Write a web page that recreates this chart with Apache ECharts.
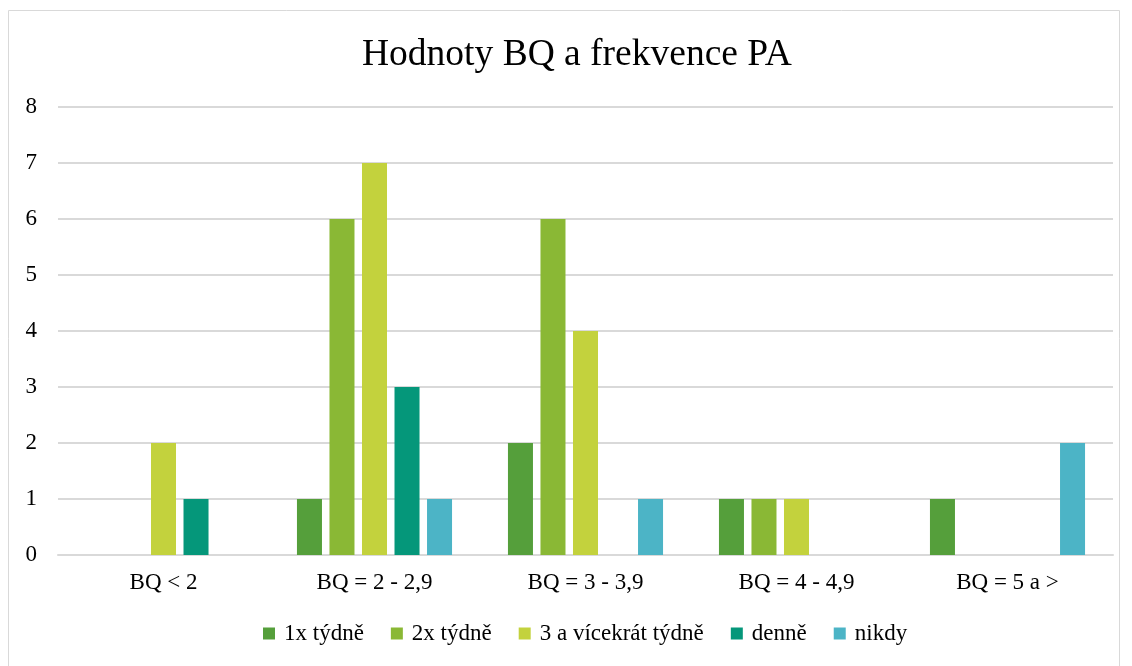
<!DOCTYPE html>
<html>
<head>
<meta charset="utf-8">
<script src="https://cdn.jsdelivr.net/npm/echarts@6/dist/echarts.min.js"></script>
<style>
  html, body { margin: 0; padding: 0; background: #fff; }
  #chart { width: 1132px; height: 666px; }
</style>
</head>
<body>
<div id="chart"></div>
<script>
const categories = ["BQ < 2", "BQ = 2 - 2,9", "BQ = 3 - 3,9", "BQ = 4 - 4,9", "BQ = 5 a >"]
const seriesNames = ["1x týdně", "2x týdně", "3 a vícekrát týdně", "denně", "nikdy"]
const weekly1 = ["-", 1, 2, 1, 1]
const weekly2 = ["-", 6, 6, 1, "-"]
const weekly3 = [2, 7, 4, 1, "-"]
const daily = [1, 3, "-", "-", "-"]
const never = ["-", 1, 1, "-", 2]
const yTicks = [0, 8, 1]

const colors = ["#559f3b", "#8ab835", "#c3d23d", "#05977a", "#4cb4c6"]
const values = [weekly1, weekly2, weekly3, daily, never]

const chart = echarts.init(document.getElementById("chart"))
const font = "Liberation Serif, Times New Roman, serif"

const option = {
  animation: false,
  textStyle: { fontFamily: font },
  title: {
    text: "Hodnoty BQ a frekvence PA",
    left: 357,
    top: 31,
    textStyle: { fontFamily: font, fontSize: 37.5, fontWeight: "normal", color: "#000" }
  },
  graphic: [
    {
      type: "rect",
      shape: { x: 8.5, y: 10.5, width: 1111, height: 660 },
      style: { fill: "none", stroke: "#d9d9d9", lineWidth: 1 },
      silent: true
    }
  ],
  legend: {
    bottom: 16,
    left: 258,
    itemWidth: 12,
    itemHeight: 12,
    itemGap: 27,
    icon: "rect",
    textStyle: { fontFamily: font, fontSize: 23, color: "#000", padding: [0, 0, 0, 4] },
    data: seriesNames
  },
  grid: { left: 58, right: 19, top: 107, bottom: 111 },
  xAxis: {
    type: "category",
    data: categories,
    axisTick: { show: false },
    axisLine: { lineStyle: { color: "#d9d9d9", width: 2 } },
    axisLabel: { fontFamily: font, fontSize: 23, color: "#000", margin: 16 }
  },
  yAxis: {
    type: "value",
    min: yTicks[0],
    max: yTicks[1],
    interval: yTicks[2],
    axisLine: { show: false },
    axisTick: { show: false },
    axisLabel: { fontFamily: font, fontSize: 23, color: "#000", margin: 21 },
    splitLine: { lineStyle: { color: "#d9d9d9", width: 2 } }
  },
  series: seriesNames.map((name, i) => ({
    name: name,
    type: "bar",
    data: values[i],
    barGap: "30%",
    barCategoryGap: "26.5%",
    itemStyle: { color: colors[i] }
  }))
}

chart.setOption(option)
</script>
</body>
</html>
